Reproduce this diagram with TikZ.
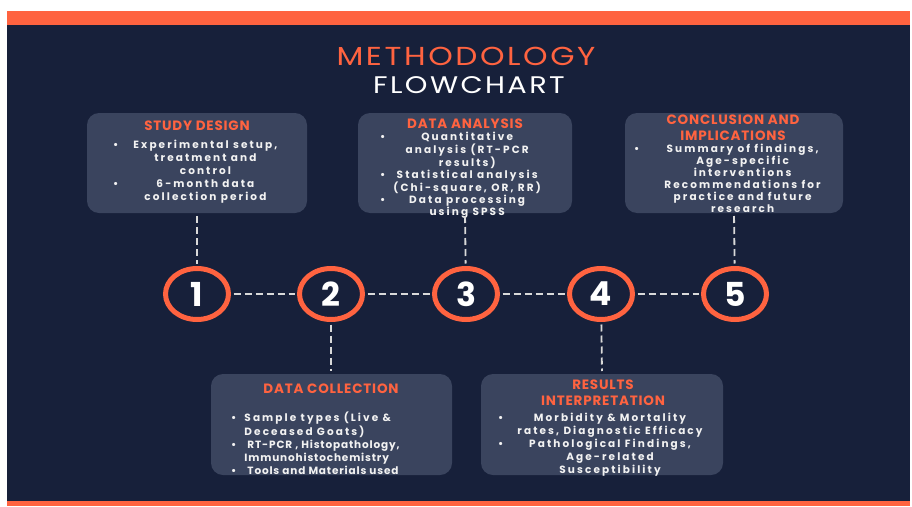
\documentclass[tikz,border=0pt]{standalone}
\usepackage{fontspec}
\setmainfont{Poppins}
\newfontfamily\titlefont{Poppins}[FakeStretch=1.2, LetterSpace=10]
\newfontfamily\headfont{Poppins}[LetterSpace=6]
\newfontfamily\bodyfont{Poppins}[LetterSpace=20]
\newfontfamily\tightfont{Poppins}[LetterSpace=8]
\usetikzlibrary{shapes.geometric}

\definecolor{navy}{HTML}{17203A}
\definecolor{panel}{HTML}{3A445E}
\definecolor{accent}{HTML}{FF6340}
\definecolor{linkgray}{HTML}{D9D9D9}
\definecolor{paper}{HTML}{F2F2F2}

\tikzset{
  panelbox/.style={fill=panel, rounded corners=12pt, draw=none},
  heading/.style={text=accent, font=\headfont\fontsize{13.5}{16}\selectfont\bfseries, align=center, inner sep=0pt},
  body/.style={text=paper, inner sep=0pt, anchor=north west},
  stepring/.style={ellipse, draw=accent, line width=5pt, fill=navy,
    minimum width=63pt, minimum height=51pt, inner sep=0pt,
    text=white, font=\fontsize{33}{33}\selectfont\bfseries},
  link/.style={draw=linkgray, line width=1.8pt, dash pattern=on 7pt off 4pt,
    shorten <=2.5pt, shorten >=2.5pt}
}

\begin{document}
\begin{tikzpicture}[x=1pt, y=-1pt]
  \useasboundingbox (0,0) rectangle (912,506);
  % page frame: white margin, orange top/bottom bands, navy field
  \fill[white] (0,0) rectangle (912,506);
  \fill[navy] (7,24) rectangle (910,501);
  \fill[accent] (7,11) rectangle (910,25);
  \fill[accent] (7,501) rectangle (910,506);

  % title
  \node[text=accent, font=\titlefont\fontsize{26}{26}\selectfont, inner sep=0pt] (title1) at (466,56) {METHODOLOGY};
  \node[text=white, font=\titlefont\fontsize{24}{24}\selectfont, inner sep=0pt] (title2) at (469,85) {FLOWCHART};

  % panels
  \path[panelbox] (87,113) rectangle (307,213);
  \path[panelbox] (358,113) rectangle (572,213);
  \path[panelbox] (625,113) rectangle (843,213);
  \path[panelbox] (211,374) rectangle (452,475);
  \path[panelbox] (481,374) rectangle (723,475);
  \coordinate (sd) at (197,213);
  \coordinate (da) at (465,213);
  \coordinate (ci) at (734,213);
  \coordinate (dc) at (331,374);
  \coordinate (ri) at (602,374);

  % panel headings
  \node[heading] (sdh) at (197,126) {STUDY DESIGN};
  \node[heading] (dah) at (465,124) {DATA ANALYSIS};
  \node[heading] (cih) at (733,128) {CONCLUSION AND\\IMPLICATIONS};
  \node[heading] (dch) at (331,389) {DATA COLLECTION};
  \node[heading] (rih) at (603,393) {RESULTS\\INTERPRETATION};

  % panel bodies
  \node[body, font=\bodyfont\fontsize{10.5}{13}\selectfont\bfseries] (sdb) at (113,139) {%
    \begin{tabular}{@{}l@{\hspace{15pt}}c@{}}
      \textbullet & Experimental setup,\\
                  & treatment and\\
                  & control\\
      \textbullet & 6-month data\\
                  & collection period
    \end{tabular}};
  \node[body, font=\bodyfont\fontsize{10.5}{11.7}\selectfont\bfseries] (dab) at (380,132) {%
    \begin{tabular}{@{}l@{\hspace{8pt}}c@{}}
      \textbullet & Quantitative\\
                  & analysis (RT-PCR\\
                  & results)\\
      \textbullet & Statistical analysis\\
                  & (Chi-square, OR, RR)\\
      \textbullet & Data processing\\
                  & using SPSS
    \end{tabular}};
  \node[body, font=\bodyfont\fontsize{10.5}{12}\selectfont\bfseries] (cib) at (634,144) {%
    \begin{tabular}{@{}l@{\hspace{25pt}}c@{}}
      \textbullet & Summary of findings,\\
                  & Age-specific\\
                  & interventions\\
                  & Recommendations for\\
                  & practice and future\\
                  & research
    \end{tabular}};
  \node[body, font=\bodyfont\fontsize{10.5}{13}\selectfont\bfseries] (dcb) at (231,412) {%
    \begin{tabular}{@{}l@{\hspace{8pt}}l@{}}
      \textbullet & Sample types (Live \&\\
                  & Deceased Goats)\\
      \textbullet & \tightfont\bfseries\hspace{3pt}RT-PCR , Histopathology,\\
                  & \tightfont\bfseries Immunohistochemistry\\
      \textbullet & \tightfont\bfseries\hspace{3pt}Tools and Materials used
    \end{tabular}};
  \node[body, font=\bodyfont\fontsize{10.5}{13}\selectfont\bfseries] (rib) at (498,412) {%
    \begin{tabular}{@{}l@{\hspace{14pt}}c@{}}
      \textbullet & Morbidity \& Mortality\\
                  & rates, Diagnostic Efficacy\\
      \textbullet & Pathological Findings,\\
                  & Age-related\\
                  & Susceptibility
    \end{tabular}};

  % numbered steps
  \node[stepring] (c1) at (197,294) {1};
  \node[stepring] (c2) at (331,294) {2};
  \node[stepring] (c3) at (466,294) {3};
  \node[stepring] (c4) at (601,294) {4};
  \node[stepring] (c5) at (735,294) {5};

  % dashed links
  \draw[link] (c1) -- (c2);
  \draw[link] (c2) -- (c3);
  \draw[link] (c3) -- (c4);
  \draw[link] (c4) -- (c5);
  \draw[link, shorten <=3pt] (sd) -- (c1);
  \draw[link, shorten <=3pt] (da) -- (c3);
  \draw[link, shorten <=3pt] (ci) -- (c5);
  \draw[link, shorten >=3pt] (c2) -- (dc);
  \draw[link, shorten >=3pt] (c4) -- (ri);
\end{tikzpicture}
\end{document}
